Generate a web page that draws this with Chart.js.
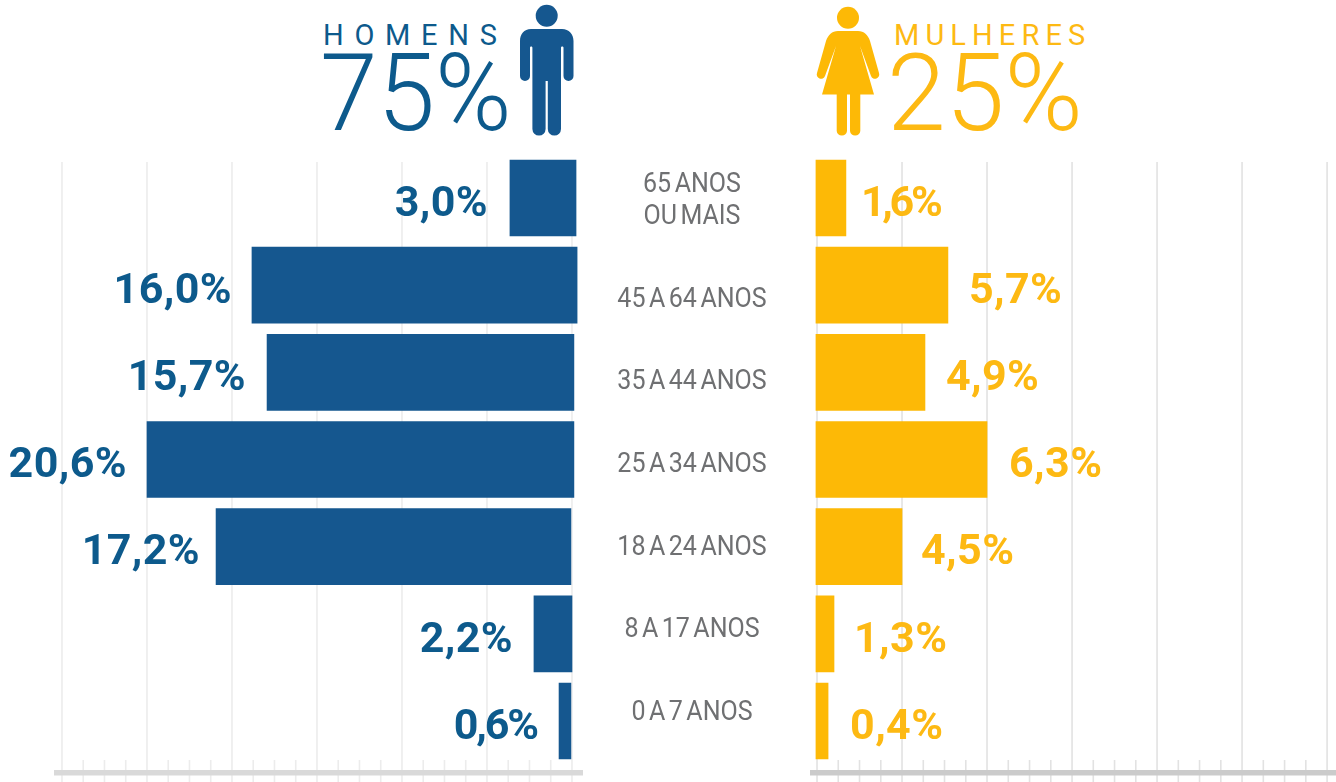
<!DOCTYPE html>
<html lang="pt">
<head>
<meta charset="utf-8">
<title>Homens e mulheres por faixa etária</title>
<script src="https://cdn.jsdelivr.net/npm/chart.js@4"></script>
<style>
html,body{margin:0;padding:0;background:#fff;width:1336px;height:782px;overflow:hidden}
canvas{position:absolute;top:0}
.t{position:absolute;white-space:nowrap;line-height:1;font-family:Roboto,sans-serif;transform-origin:0 0}
.cat{position:absolute;left:592px;width:200px;text-align:center;color:#6f7072;font:400 27.5px/32px Roboto,sans-serif;white-space:pre;word-spacing:-3px;transform:scaleX(.91);transform-origin:50% 50%}
svg{position:absolute;left:0;top:0}
</style>
</head>
<body>
<div class="t" id="hL" style="left:323px;top:21px;color:#0d5a8c;font-size:29px;font-weight:400;letter-spacing:10.7px">HOMENS</div>
<div class="t" id="hV" style="left:320px;top:39px;color:#0d5a8c;font-size:108px;font-weight:300;transform:scaleX(.96)">75%</div>
<div class="t" id="mL" style="left:894px;top:21px;color:#fdb913;font-size:29px;font-weight:400;letter-spacing:6.1px">MULHERES</div>
<div class="t" id="mV" style="left:887px;top:39px;color:#fdb913;font-size:108px;font-weight:300;transform:scaleX(.98)">25%</div>
<svg width="1336" height="782" viewBox="0 0 1336 782">
  <g fill="#15578f">
    <circle cx="546.7" cy="15.7" r="11"/>
    <path d="M531 29H562C569 29 573.5 34 573.5 41V76A5 5 0 0 1 563.5 76V47.5C563.5 46 561 46 561 47.5V129A6.6 6.6 0 0 1 547.8 129V81H545.6V129A6.6 6.6 0 0 1 532.4 129V47.5C532.4 46 530 46 530 47.5V76A5 5 0 0 1 520 76V41C520 34 524 29 531 29Z"/>
  </g>
  <g fill="#fdb906">
    <circle cx="848" cy="17.7" r="11"/>
    <path d="M838 31H858C864 31 868 35 870 41L879 73A4.2 4.2 0 0 1 871 76L860 46L874 94.5H860.3V131A5.2 5.2 0 0 1 850 131V94.5H847V131A5.2 5.2 0 0 1 836.7 131V94.5H822L836 46L825 76A4.2 4.2 0 0 1 817 73L826 41C828 35 832 31 838 31Z"/>
  </g>
</svg>
<canvas id="men" style="left:0"></canvas>
<canvas id="women" style="left:600px"></canvas>
<script>
const categories = ["65 ANOS\nOU MAIS","45 A 64 ANOS","35 A 44 ANOS","25 A 34 ANOS","18 A 24 ANOS","8 A 17 ANOS","0 A 7 ANOS"];
const menShare = ["3,0%","16,0%","15,7%","20,6%","17,2%","2,2%","0,6%"];
const womenShare = ["1,6%","5,7%","4,9%","6,3%","4,5%","1,3%","0,4%"];
// Bar extents (one axis unit = one minor tick).
const menBarStart = [-0.19,-0.24,-0.09,-0.09,0.05,0,0.05];
const menBarEnd = [2.92,15.06,14.35,20.0,16.75,1.79,0.61];
const womenBarStart = [-0.05,-0.05,-0.05,-0.05,-0.05,-0.05,-0.05];
const womenBarEnd = [1.36,6.16,5.08,8.0,4.0,0.8,0.52];
const axisTicks = [0,1,2,3,4,5,6,7,8,9,10,11,12,13,14,15,16,17,18,19,20,21,22,23,24];

const pair = (a,b)=>a.map((v,i)=>[v,b[i]]);
const BLUE='#15578f', YELLOW='#fdb906';

categories.forEach((c,i)=>{
  const d=document.createElement('div');
  d.className='cat'; d.textContent=c;
  const tops=[167,282,364,447,530,612,695];
  d.style.top=tops[i]+'px';
  document.body.appendChild(d);
});

function axisPlugin(gridColor,bandColor){
  return {
    id:'axisDecor',
    beforeDatasetsDraw(chart){
      const x=chart.scales.x, c=chart.ctx, a=chart.chartArea;
      c.save();
      c.lineWidth=1.6;
      c.strokeStyle=gridColor;
      axisTicks.forEach(t=>{
        const p=x.getPixelForValue(t);
        c.beginPath();
        c.moveTo(p,t%4===0?162:760);
        c.lineTo(p,782);
        c.stroke();
      });
      c.fillStyle=bandColor;
      c.fillRect(a.left,770,a.right-a.left,5.5);
      c.restore();
    }
  };
}
function labelPlugin(texts,color,gaps,tracking,side){
  return {
    id:'valueLabels',
    afterDatasetsDraw(chart){
      const c=chart.ctx, x=chart.scales.x, y=chart.scales.y;
      const ends=chart.data.datasets[0].data;
      c.save();
      c.fillStyle=color;
      c.font='700 43px Roboto, sans-serif';
      c.textBaseline='middle';
      c.textAlign=side<0?'right':'left';
      texts.forEach((t,i)=>{
        c.letterSpacing=tracking[i]+'px';
        c.fillText(t,x.getPixelForValue(ends[i][1])+side*gaps[i],y.getPixelForValue(i)+7);
      });
      c.restore();
    }
  };
}
function build(id,w,h,pad,starts,ends,color,reverse,min,max,plugins){
  const cv=document.getElementById(id);
  cv.width=w;cv.height=h;cv.style.width=w+'px';cv.style.height=h+'px';
  return new Chart(cv,{
    type:'bar',
    data:{labels:categories,datasets:[{data:pair(starts,ends),backgroundColor:color,borderWidth:0,barThickness:76,borderSkipped:false}]},
    options:{
      indexAxis:'y',responsive:false,animation:false,
      layout:{padding:pad},
      plugins:{legend:{display:false},tooltip:{enabled:false}},
      scales:{
        x:{type:'linear',display:false,reverse,min,max},
        y:{type:'category',display:false,offset:true}
      }
    },
    plugins
  });
}
build('men',600,782,{left:54,right:17,top:154.4,bottom:17.4},menBarStart,menBarEnd,BLUE,true,-0.518,24.376,
  [axisPlugin('#ececec','#d9d9d9'),labelPlugin(menShare,'#0d5a8c',[22,20,21,20,16,21,22],[0.4,0.4,0.4,0.4,0.4,0.4,-2.1],-1)]);
build('women',736,782,{left:210,right:0,top:154.4,bottom:17.4},womenBarStart,womenBarEnd,YELLOW,false,-0.33,24.42,
  [axisPlugin('#e2e2e2','#cbcbcb'),labelPlugin(womenShare,'#fdb913',[15,21,21,22,19,20,22],[-3.3,0.4,0.4,0.4,0.4,0.4,0.4],1)]);
</script>
</body>
</html>
